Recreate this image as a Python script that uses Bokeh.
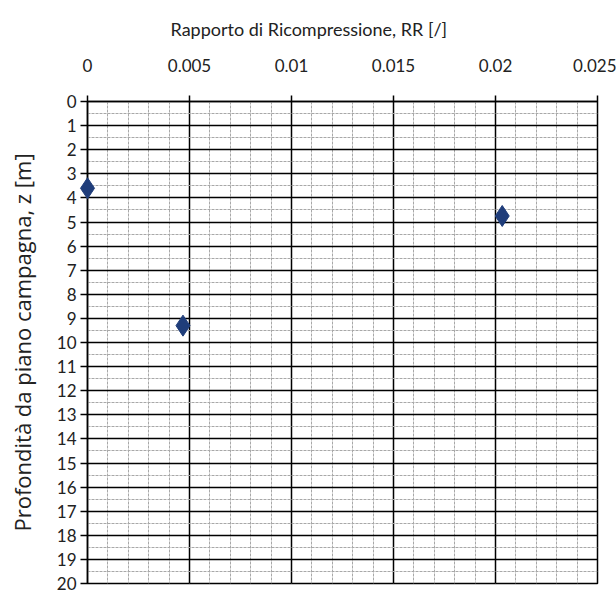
from bokeh.plotting import figure
from bokeh.models import Range1d, FixedTicker, ColumnDataSource, Title
from bokeh.embed import file_html
from bokeh.resources import INLINE

# data
rr = [0.0, 0.00468, 0.02033]
z = [3.6, 9.3, 4.75]
x_ticks = [0, 0.005, 0.01, 0.015, 0.02, 0.025]
x_tick_labels = ["0", "0.005", "0.01", "0.015", "0.02", "0.025"]
x_minor = [i * 0.001 for i in range(26)]
y_ticks = list(range(0, 21))
y_minor = [i + 0.5 for i in range(20)]
x_title = "Rapporto di Ricompressione, RR [/]"
y_title = "Profondità da piano campagna, z [m]"

p = figure(width=616, height=593, output_backend="svg", toolbar_location=None,
           x_range=Range1d(0, 0.025), y_range=Range1d(20, 0),
           x_axis_location="above", min_border_left=87, min_border_right=19,
           min_border_top=101, min_border_bottom=10)
p.background_fill_color = "white"
p.border_fill_color = "white"
p.outline_line_color = "black"
p.outline_line_width = 1.5

p.title = Title(text=x_title, align="left", offset=83,
                text_font="Lato", text_font_size="18px",
                text_font_style="normal", text_color="#222222", standoff=31)

xa = p.xaxis[0]
xa.ticker = FixedTicker(ticks=x_ticks, minor_ticks=x_minor)
xa.major_label_overrides = {t: l for t, l in zip(x_ticks, x_tick_labels)}
xa.major_label_text_font = "Lato"
xa.major_label_text_font_size = "17px"
xa.major_label_text_color = "#222222"
xa.major_label_standoff = 24
xa.major_tick_out = 6
xa.major_tick_in = 0
xa.minor_tick_out = 0
xa.minor_tick_in = 0
xa.axis_line_color = "black"
xa.axis_line_width = 1.5
xa.major_tick_line_width = 1.5

ya = p.yaxis[0]
ya.ticker = FixedTicker(ticks=y_ticks, minor_ticks=y_minor)
ya.axis_label = y_title
ya.axis_label_text_font = "Open Sans"
ya.axis_label_text_font_size = "22px"
ya.axis_label_text_font_style = "normal"
ya.axis_label_text_color = "#222222"
ya.axis_label_standoff = 17
ya.major_label_text_font = "Lato"
ya.major_label_text_font_size = "17px"
ya.major_label_text_color = "#222222"
ya.major_label_standoff = 4
ya.major_tick_out = 7
ya.major_tick_in = 0
ya.minor_tick_out = 0
ya.minor_tick_in = 0
ya.axis_line_color = "black"
ya.axis_line_width = 1.5
ya.major_tick_line_width = 1.5

for g in (p.xgrid[0], p.ygrid[0]):
    g.grid_line_color = "black"
    g.grid_line_width = 1.5
    g.minor_grid_line_color = "#a8a8a8"
    g.minor_grid_line_width = 1
    g.minor_grid_line_dash = "3 1"

src = ColumnDataSource(data=dict(x=rr, y=z))
p.scatter("x", "y", source=src, marker="diamond", size=21,
          fill_color="#1f3d7a", line_color="#1f3d7a", line_width=1,
          level="overlay")

open("out.html", "w").write(file_html(p, INLINE))
